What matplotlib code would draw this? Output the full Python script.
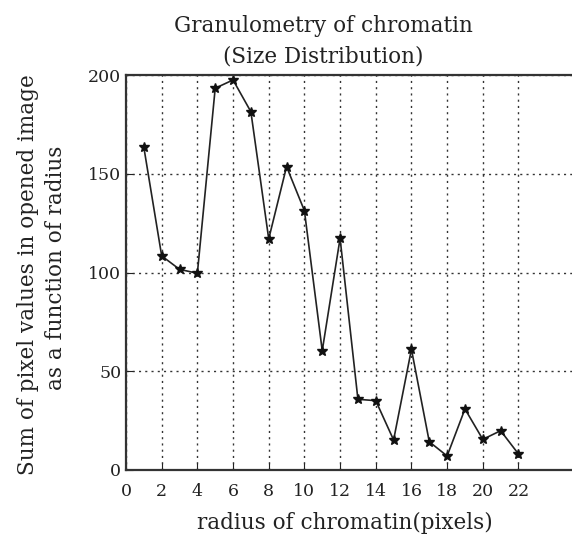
import matplotlib
matplotlib.use("Agg")
import matplotlib.pyplot as plt

radius = list(range(1, 23))
values = [163.4, 108.4, 101.6, 99.6, 193.3, 197.5, 181.4, 117.0, 153.6, 131.3,
          60.4, 117.3, 35.8, 35.1, 15.2, 61.1, 14.3, 7.1, 30.9, 15.5, 19.9, 8.1]
xticks = list(range(0, 23, 2))
yticks = [0, 50, 100, 150, 200]

plt.rcParams['font.family'] = ['DejaVu Serif']

fig = plt.figure(figsize=(5.72, 5.41), dpi=100)
ax = fig.add_axes([126/572, 71/541, 1 - 126/572, 395/541])

ax.plot(radius, values, color='#222222', lw=1.2, marker='*', markersize=7,
        markerfacecolor='#111111', markeredgecolor='#111111')

ax.set_xlim(0, 25)
ax.set_ylim(0, 200)
ax.set_xticks(xticks)
ax.set_yticks(yticks)
ax.grid(True, color='#333333', linestyle=(0, (1.5, 3)), linewidth=1.0)
ax.tick_params(direction='in', length=5, labelsize=12.5, colors='#222222')
ax.tick_params(axis='x', pad=9)
for s in ['left', 'bottom', 'top']:
    ax.spines[s].set_linewidth(1.6)
    ax.spines[s].set_color('#333333')
ax.spines['right'].set_visible(False)

fs = 15.5
fig.text(323/572, 1 - 26/541, 'Granulometry of chromatin', ha='center', va='center',
         fontsize=fs, color='#222222')
fig.text(323/572, 1 - 56/541, '(Size Distribution)', ha='center', va='center',
         fontsize=fs, color='#222222')
fig.text(345/572, 1 - 523/541, 'radius of chromatin(pixels)', ha='center', va='center',
         fontsize=fs, color='#222222')
fig.text(28/572, 1 - 275/541, 'Sum of pixel values in opened image', ha='center',
         va='center', rotation=90, fontsize=fs, color='#222222')
fig.text(56/572, 1 - 268/541, 'as a function of radius', ha='center',
         va='center', rotation=90, fontsize=fs, color='#222222')

fig.savefig('out.png', dpi=100)
